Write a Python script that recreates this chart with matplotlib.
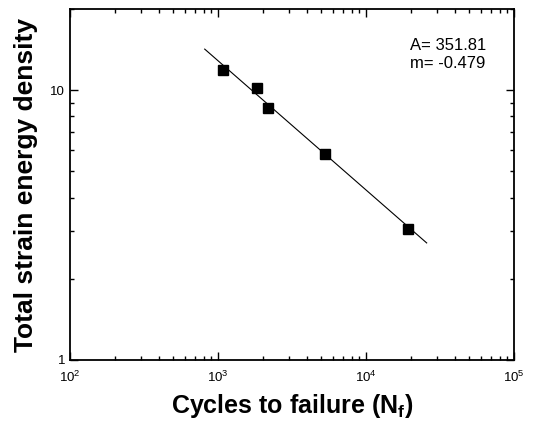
import numpy as np
import matplotlib
matplotlib.use('Agg')
import matplotlib.pyplot as plt
from matplotlib.ticker import LogLocator, NullFormatter, FixedLocator, FixedFormatter

plt.rcParams['font.family'] = ['Liberation Sans', 'DejaVu Sans']
plt.rcParams['mathtext.fontset'] = 'custom'
plt.rcParams['mathtext.rm'] = 'Liberation Sans'
plt.rcParams['mathtext.it'] = 'Liberation Sans:italic'
plt.rcParams['mathtext.bf'] = 'Liberation Sans:bold'

# измеренные точки
cycles = [1076, 1837, 2188, 5285, 19230]
energy = [11.9, 10.2, 8.6, 5.8, 3.06]

# параметры аппроксимации W = A * N^m
A = 351.81
m = -0.479
fit_range = [813, 25700]

fig = plt.figure(figsize=(5.34, 4.32), dpi=100)
ax = fig.add_axes([70 / 534, 1 - 360 / 432, 444 / 534, 351 / 432])

fit_x = np.array(fit_range)
ax.plot(fit_x, A * fit_x ** m, color='black', lw=0.8)
ax.plot(cycles, energy, 's', color='black', ms=7)

ax.set_xscale('log')
ax.set_yscale('log')
ax.set_xlim(1e2, 1e5)
ax.set_ylim(1, 20)

ax.xaxis.set_major_locator(LogLocator(base=10))
ax.xaxis.set_minor_locator(LogLocator(base=10, subs=np.arange(2, 10)))
ax.xaxis.set_minor_formatter(NullFormatter())
ax.yaxis.set_major_locator(FixedLocator([1, 10]))
ax.yaxis.set_major_formatter(FixedFormatter(['1', '10']))
ax.yaxis.set_minor_locator(LogLocator(base=10, subs=np.arange(2, 10)))
ax.yaxis.set_minor_formatter(NullFormatter())

ax.tick_params(which='both', direction='in', top=True, right=True, labelsize=9.5)
ax.tick_params(which='major', length=6, width=1)
ax.tick_params(which='minor', length=3, width=1)
ax.tick_params(axis='x', pad=7)
for sp in ax.spines.values():
    sp.set_linewidth(1.3)

ax.text(0.766, 0.917, 'A= 351.81\nm= -0.479', transform=ax.transAxes,
        fontsize=12, va='top', ha='left', linespacing=1.2)

ax.set_xlabel('Cycles to failure (N$_\\mathbf{f}$)', fontsize=18, fontweight='bold', labelpad=5)
ax.set_ylabel('Total strain energy density', fontsize=19, fontweight='bold', labelpad=9)

fig.savefig('out.png', dpi=100)
